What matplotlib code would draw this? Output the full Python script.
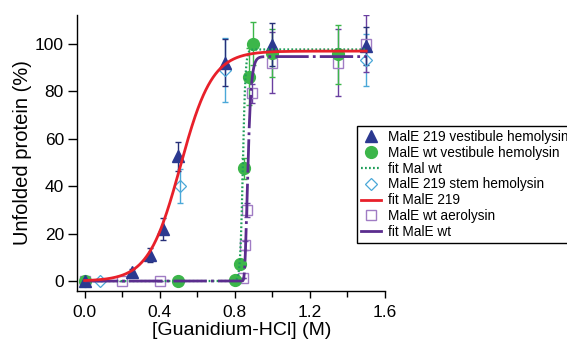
import numpy as np
import matplotlib
matplotlib.use("Agg")
import matplotlib.pyplot as plt
from matplotlib.lines import Line2D

plt.rcParams["font.family"] = ["Liberation Sans", "DejaVu Sans"]

# MalE 219 vestibule hemolysin (filled triangles)
tri_x = [0.0, 0.25, 0.35, 0.42, 0.5, 0.75, 1.0, 1.5]
tri_y = [0, 4, 11, 22, 52.5, 92, 99.5, 99]
tri_err = [0, 1, 3, 4.5, 6, 10, 9, 8]

# MalE wt vestibule hemolysin (filled circles)
circ_x = [0.0, 0.5, 0.8, 0.826, 0.848, 0.878, 0.897, 1.0, 1.35]
circ_y = [0, 0, 0.5, 7, 47.5, 86, 100, 96, 95.5]
circ_err = [0, 0, 0, 0, 4.5, 12, 9, 10, 12.5]

# MalE 219 stem hemolysin (open diamonds)
dia_x = [0.0, 0.08, 0.51, 0.75, 1.5]
dia_y = [0, 0, 40, 89, 93]
dia_err = [0, 0, 7, 13.5, 11]

# MalE wt aerolysin (open squares)
sq_x = [0.0, 0.2, 0.4, 0.845, 0.852, 0.866, 0.89, 1.0, 1.35, 1.5]
sq_y = [0, 0, 0, 1.5, 15, 30, 79, 92, 92, 100]
sq_err = [0, 0, 0, 0, 2, 3, 4, 13, 14, 12]

# fit parameters: plateau, midpoint, width
fit_219 = (96.8, 0.51, 0.085)
fit_mal_wt = (97.5, 0.843, 0.007)
fit_male_wt = (94.5, 0.865, 0.012)

x_ticks = [0.0, 0.4, 0.8, 1.2, 1.6]
y_ticks = [0, 20, 40, 60, 80, 100]

RED = "#e8202a"
NAVY = "#2b3990"
GREEN = "#3cb64a"
TEAL = "#1f9e5a"
LBLUE = "#4aa8d8"
LAV = "#a07cc4"
PURPLE = "#5b2d8e"


def logistic(x, top, x0, w):
    return top / (1 + np.exp(-(x - x0) / w))


def gompertz(x, top, x0, w):
    return top * np.exp(-np.exp(-(x - x0) / w))


fig = plt.figure(figsize=(5.67, 3.49), dpi=100)
ax = fig.add_axes([0.136, 0.166, 0.543, 0.791])

xs = np.linspace(0, 1.5, 1500)

eb = dict(lw=1.0, capsize=2.3, capthick=1.0, ls="none")
ax.errorbar(dia_x, dia_y, yerr=dia_err, ecolor=LBLUE, zorder=2, fmt="none", **eb)
ax.errorbar(sq_x, sq_y, yerr=sq_err, ecolor="#6a3fa0", zorder=2, fmt="none", **eb)
ax.errorbar(circ_x, circ_y, yerr=circ_err, ecolor=GREEN, zorder=2, fmt="none", **eb)
ax.errorbar(tri_x, tri_y, yerr=tri_err, ecolor="#262f78", zorder=2, fmt="none", **eb)

ax.plot(dia_x, dia_y, "D", ms=6, mfc="none", mec=LBLUE, mew=0.9, ls="none", zorder=3)
ax.plot(sq_x, sq_y, "s", ms=7, mfc="none", mec=LAV, mew=1.0, ls="none", zorder=3)
ax.plot(circ_x, circ_y, "o", ms=8.5, color=GREEN, mec=GREEN, ls="none", zorder=4)
ax.plot(tri_x, tri_y, "^", ms=8.5, color=NAVY, mec=NAVY, ls="none", zorder=4)

ax.plot(xs, logistic(xs, *fit_mal_wt), color=TEAL, lw=1.6, dashes=(0.8, 1.0), zorder=5)
ax.plot(xs, gompertz(xs, *fit_male_wt), color=PURPLE, lw=2.0,
        dashes=(12, 1.5, 1.0, 1.5), zorder=5)
ax.plot(xs, logistic(xs, *fit_219), color=RED, lw=2.0, zorder=6)

ax.set_xlim(-0.04, 1.6)
ax.set_ylim(-4.2, 112)
ax.set_xticks(x_ticks)
ax.set_xticklabels([f"{t:.1f}" for t in x_ticks])
ax.set_xticks([0.2, 0.6, 1.0, 1.4], minor=True)
ax.set_yticks(y_ticks)
ax.tick_params(axis="y", direction="out", length=6.5, width=1, pad=3, labelsize=12.5)
ax.tick_params(axis="x", which="major", direction="out", length=5, width=1, pad=5,
               labelsize=12.5)
ax.tick_params(axis="x", which="minor", direction="out", length=4, width=1)
for s in ["top", "right"]:
    ax.spines[s].set_visible(False)
for s in ["left", "bottom"]:
    ax.spines[s].set_linewidth(1.0)

ax.set_xlabel("[Guanidium-HCl] (M)", fontsize=14)
ax.xaxis.set_label_coords(0.535, -0.112)
ax.set_ylabel("Unfolded protein (%)", fontsize=14.5, labelpad=2)

handles = [
    Line2D([], [], marker="^", ms=8.5, color=NAVY, ls="none"),
    Line2D([], [], marker="o", ms=8.5, color=GREEN, ls="none"),
    Line2D([], [], color=TEAL, lw=1.6, dashes=(0.8, 1.0)),
    Line2D([], [], marker="D", ms=6, mfc="none", mec=LBLUE, mew=0.9, ls="none"),
    Line2D([], [], color=RED, lw=2.0),
    Line2D([], [], marker="s", ms=7, mfc="none", mec=LAV, mew=1.0, ls="none"),
    Line2D([], [], color=PURPLE, lw=2.0),
]
labels = [
    "MalE 219 vestibule hemolysin",
    "MalE wt vestibule hemolysin",
    "fit Mal wt",
    "MalE 219 stem hemolysin",
    "fit MalE 219",
    "MalE wt aerolysin",
    "fit MalE wt",
]
leg = fig.legend(handles, labels, loc="upper left", bbox_to_anchor=(0.63, 0.64),
                 fontsize=9.8, frameon=True, fancybox=False, framealpha=1,
                 edgecolor="black", borderpad=0.3, labelspacing=0.14,
                 handlelength=1.45, handletextpad=0.5, borderaxespad=0)
leg.get_frame().set_linewidth(1.0)

fig.savefig("out.png", dpi=100)
